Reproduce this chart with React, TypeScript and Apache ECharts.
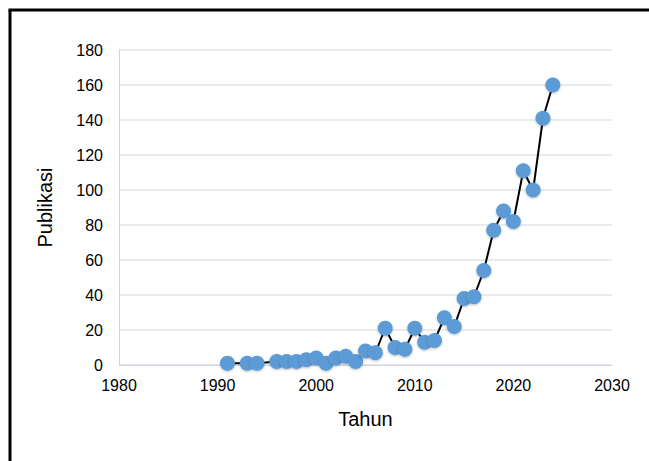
import React, { useEffect, useRef } from "react";
import * as echarts from "echarts";

const years = [1991, 1993, 1994, 1996, 1997, 1998, 1999, 2000, 2001, 2002, 2003, 2004, 2005, 2006, 2007, 2008, 2009, 2010, 2011, 2012, 2013, 2014, 2015, 2016, 2017, 2018, 2019, 2020, 2021, 2022, 2023, 2024];
const publications = [1, 1, 1, 2, 2, 2, 3, 4, 1, 4, 5, 2, 8, 7, 21, 10, 9, 21, 13, 14, 27, 22, 38, 39, 54, 77, 88, 82, 111, 100, 141, 160];
const xTitle = "Tahun";
const yTitle = "Publikasi";

export default function App() {
  const ref = useRef<HTMLDivElement>(null);
  useEffect(() => {
    document.body.style.margin = "0";
    const chart = echarts.init(ref.current!, null, { renderer: "svg" });
    const font = "Liberation Sans, Arial, sans-serif";
    chart.setOption({
      animation: false,
      backgroundColor: "#ffffff",
      grid: { left: 119, right: 37, top: 50, bottom: 96 },
      xAxis: {
        type: "value",
        min: 1980,
        max: 2030,
        interval: 10,
        name: xTitle,
        nameLocation: "middle",
        nameGap: 44,
        nameTextStyle: { fontFamily: font, fontSize: 20, color: "#000" },
        axisLine: { show: true, lineStyle: { color: "#d0d5dd", width: 1 } },
        axisTick: { show: false },
        splitLine: { show: false },
        axisLabel: { fontFamily: font, fontSize: 16, color: "#000", margin: 12, formatter: (v: number) => String(v) },
      },
      yAxis: {
        type: "value",
        min: 0,
        max: 180,
        interval: 20,
        name: yTitle,
        nameLocation: "middle",
        nameGap: 64,
        nameTextStyle: { fontFamily: font, fontSize: 20, color: "#000" },
        axisLine: { show: true, lineStyle: { color: "#d0d5dd", width: 1 } },
        axisTick: { show: false },
        splitLine: { show: true, lineStyle: { color: "#e1e4e8", width: 1.5 } },
        axisLabel: { fontFamily: font, fontSize: 16, color: "#000", margin: 16 },
      },
      series: [
        {
          type: "line",
          data: years.map((y, i) => [y, publications[i]]),
          symbol: "circle",
          symbolSize: 15,
          lineStyle: { color: "#000", width: 2 },
          itemStyle: { color: "#5b9bd5", shadowColor: "rgba(0,0,0,0.25)", shadowBlur: 2, shadowOffsetY: 1 },
          z: 3,
        },
      ],
      graphic: [
        { type: "line", shape: { x1: 10, y1: 10, x2: 10, y2: 461 }, style: { stroke: "#000", lineWidth: 3 } },
        { type: "line", shape: { x1: 8.5, y1: 10, x2: 649, y2: 10 }, style: { stroke: "#000", lineWidth: 3 } },
      ],
    });
    return () => chart.dispose();
  }, []);
  return <div ref={ref} style={{ width: 649, height: 461 }} />;
}
